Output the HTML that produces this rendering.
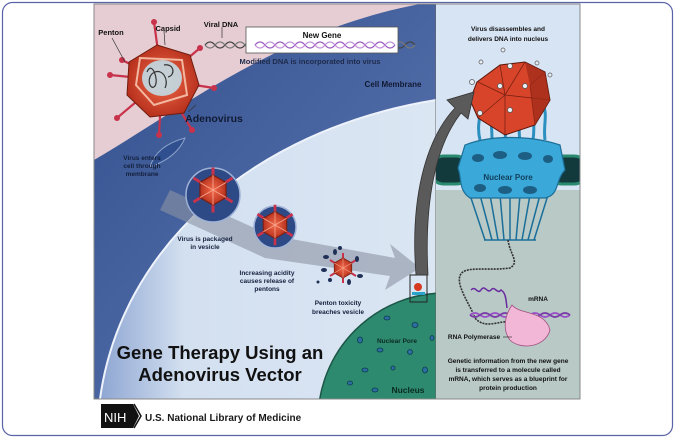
<!DOCTYPE html>
<html><head><meta charset="utf-8"><style>
html,body{margin:0;padding:0;background:#fff;width:675px;height:438px;overflow:hidden;}
svg{display:block;font-family:"Liberation Sans",sans-serif;font-weight:bold;}
</style></head><body>
<svg width="675" height="438" viewBox="0 0 675 438" xmlns="http://www.w3.org/2000/svg">
<defs>
<clipPath id="L"><rect x="94" y="4" width="342" height="395"/></clipPath>
<clipPath id="R"><rect x="436" y="4" width="144" height="395"/></clipPath>
<clipPath id="P"><rect x="94" y="4" width="486" height="395"/></clipPath>
<linearGradient id="mem" x1="0" y1="0" x2="1" y2="1"><stop offset="0" stop-color="#33518f"/><stop offset="1" stop-color="#5f79b3"/></linearGradient>
<linearGradient id="cyt" x1="0" y1="0" x2="1" y2="0"><stop offset="0" stop-color="#8ea6d2"/><stop offset="0.25" stop-color="#d3e0f0"/><stop offset="1" stop-color="#dbe6f3"/></linearGradient>
<radialGradient id="vr"><stop offset="0" stop-color="#f26a4a"/><stop offset="1" stop-color="#b8321e"/></radialGradient>
<g id="vir">
 <g stroke="#c8324a" stroke-width="2">
  <line x1="0" y1="0" x2="0" y2="-15"/><line x1="0" y1="0" x2="13" y2="-8"/><line x1="0" y1="0" x2="13" y2="8"/><line x1="0" y1="0" x2="0" y2="15"/><line x1="0" y1="0" x2="-13" y2="8"/><line x1="0" y1="0" x2="-13" y2="-8"/>
 </g>
 <polygon points="0,-10 8.7,-5 8.7,5 0,10 -8.7,5 -8.7,-5" fill="url(#vr)" stroke="#7a1e12" stroke-width="0.8"/>
 <path d="M0,-10 L0,10 M-8.7,-5 L8.7,5 M8.7,-5 L-8.7,5" stroke="#f7a58e" stroke-width="0.6"/>
</g>
</defs>
<rect x="2.5" y="2.5" width="670" height="433" rx="10" fill="#fff" stroke="#5b63a8" stroke-width="1.2"/>
<g clip-path="url(#L)">
 <rect x="94" y="4" width="342" height="395" fill="#e6cdd3"/>
 <path d="M94,160 C180,110 280,30 420,4 L436,4 L436,399 L94,399 Z" fill="url(#mem)"/>
 <path d="M100,399 C120,250 250,130 436,100 L436,399 Z" fill="url(#cyt)"/>
 <path d="M100,399 C120,250 250,130 436,100" fill="none" stroke="#eef3fb" stroke-width="2"/>
 <path d="M170,190 L270,235 L395,258 L390,244 L420,268 L385,290 L390,276 L265,258 L160,210 Z" fill="#8b93a3" opacity="0.6"/>
 <path d="M150,167 C170,160 180,150 185,138 C170,142 155,150 150,167 Z" fill="#2f4f8f" stroke="#8aa0c8"/>
 <circle cx="213" cy="195" r="27" fill="#2d4a86" stroke="#9fb2d6" stroke-width="1.5"/>
 <circle cx="275" cy="227" r="21" fill="#2d4a86" stroke="#9fb2d6" stroke-width="1.5"/>
 <use href="#vir" transform="translate(213,190) scale(1.5)"/>
 <use href="#vir" transform="translate(275,225) scale(1.35)"/>
 <use href="#vir" transform="translate(343,268) scale(1)"/>
 <g fill="#1f2f55">
  <ellipse cx="326" cy="257" rx="3" ry="2"/><ellipse cx="335" cy="252" rx="2" ry="3"/><ellipse cx="357" cy="259" rx="2" ry="3"/><ellipse cx="324" cy="270" rx="3" ry="2"/><ellipse cx="330" cy="280" rx="2" ry="2"/><ellipse cx="360" cy="276" rx="3" ry="2"/><ellipse cx="349" cy="282" rx="2" ry="3"/><ellipse cx="340" cy="248" rx="2" ry="2"/><ellipse cx="318" cy="282" rx="1.5" ry="1.5"/>
 </g>
 <circle cx="445" cy="420" r="127" fill="#2e8a6e" stroke="#1c5748" stroke-width="1.5"/>
 <g fill="#2a6fa0" stroke="#0d3a4e" stroke-width="0.8">
  <ellipse cx="387" cy="318" rx="3" ry="2"/><ellipse cx="415" cy="325" rx="3" ry="2.5"/><ellipse cx="360" cy="340" rx="2.5" ry="3"/><ellipse cx="380" cy="350" rx="3" ry="2"/><ellipse cx="410" cy="352" rx="2.5" ry="2.5"/><ellipse cx="365" cy="370" rx="3" ry="2"/><ellipse cx="393" cy="368" rx="2" ry="2"/><ellipse cx="425" cy="370" rx="2.5" ry="3"/><ellipse cx="350" cy="383" rx="2.5" ry="2"/><ellipse cx="375" cy="390" rx="3" ry="2"/><ellipse cx="432" cy="338" rx="2" ry="2.5"/>
 </g>
 <rect x="410" y="275" width="17" height="27" fill="none" stroke="#222" stroke-width="1"/>
 <circle cx="418" cy="287" r="4" fill="#d63b22"/>
 <rect x="412" y="292" width="13" height="3" fill="#2aa3c8"/>
 <path d="M205,45 q5,-6 10,0 t10,0 t10,0 t10,0 t10,0 t10,0 t10,0 t10,0 t10,0 t10,0 t10,0 t10,0 t10,0 t10,0 t10,0 t10,0 t10,0 t10,0 t10,0 t10,0 t10,0" fill="none" stroke="#444" stroke-width="1.3"/>
 <path d="M205,45 q5,6 10,0 t10,0 t10,0 t10,0 t10,0 t10,0 t10,0 t10,0 t10,0 t10,0 t10,0 t10,0 t10,0 t10,0 t10,0 t10,0 t10,0 t10,0 t10,0 t10,0 t10,0" fill="none" stroke="#777" stroke-width="1.3"/>
 <rect x="246" y="27" width="152" height="26" fill="#fff" stroke="#555" stroke-width="0.8"/>
 <path d="M255,45 q5,-6 10,0 t10,0 t10,0 t10,0 t10,0 t10,0 t10,0 t10,0 t10,0 t10,0 t10,0 t10,0 t10,0 t10,0" fill="none" stroke="#9a59c0" stroke-width="1.3"/>
 <path d="M255,45 q5,6 10,0 t10,0 t10,0 t10,0 t10,0 t10,0 t10,0 t10,0 t10,0 t10,0 t10,0 t10,0 t10,0 t10,0" fill="none" stroke="#c090dc" stroke-width="1.3"/>
 <g transform="translate(162,80)">
  <g stroke="#c8324a" stroke-width="2.2">
   <line x1="0" y1="0" x2="-8" y2="-58"/><line x1="0" y1="0" x2="38" y2="-32"/><line x1="0" y1="0" x2="52" y2="8"/><line x1="0" y1="0" x2="30" y2="50"/><line x1="0" y1="0" x2="-3" y2="55"/><line x1="0" y1="0" x2="-45" y2="38"/><line x1="0" y1="0" x2="-52" y2="-5"/><line x1="0" y1="0" x2="-40" y2="-20"/>
  </g>
  <g fill="#c8324a"><circle cx="-8" cy="-58" r="3"/><circle cx="38" cy="-32" r="3"/><circle cx="52" cy="8" r="3"/><circle cx="30" cy="50" r="3"/><circle cx="-3" cy="55" r="3"/><circle cx="-45" cy="38" r="3"/><circle cx="-52" cy="-5" r="3"/><circle cx="-40" cy="-20" r="3"/></g>
  <polygon points="-5,-35 28,-25 37,5 22,33 -12,37 -35,15 -33,-18" fill="url(#vr)" stroke="#6e1d10" stroke-width="1"/>
  <polygon points="-22,-22 20,-20 25,15 -8,25 -26,5" fill="none" stroke="#f3b7a0" stroke-width="2"/>
  <ellipse cx="0" cy="-2" rx="20" ry="18" fill="#bfe4f0" opacity="0.85"/>
  <path d="M-15,-8 c5,-12 12,8 8,14 c-5,6 -10,-10 0,-14 c8,-3 14,8 10,16 M2,-15 c10,-2 12,10 4,12" fill="none" stroke="#333" stroke-width="1.2"/>
 </g>
 <g stroke="#333" stroke-width="0.7"><line x1="112" y1="38" x2="125" y2="62"/><line x1="164" y1="31" x2="165" y2="45"/><line x1="222" y1="27" x2="222" y2="38"/><line x1="188" y1="112" x2="196" y2="105"/></g>
 <g fill="#111" font-size="7.5" text-anchor="middle">
  <text x="111" y="35">Penton</text><text x="168" y="31">Capsid</text><text x="221" y="27">Viral DNA</text>
  <text x="322" y="38" font-size="8">New Gene</text>
  <text x="310" y="64" fill="#1e2a4a">Modified DNA is incorporated into virus</text>
  <text x="393" y="87" font-size="8" fill="#111a33">Cell Membrane</text>
  <text x="214" y="122" font-size="10.5" fill="#111a33">Adenovirus</text>
  <g fill="#14203d" font-size="6.5"><text x="142" y="160">Virus enters</text><text x="142" y="168">cell through</text><text x="142" y="176">membrane</text>
  <text x="205" y="241">Virus is packaged</text><text x="205" y="249">in vesicle</text>
  <text x="267" y="275">Increasing acidity</text><text x="267" y="283">causes release of</text><text x="267" y="291">pentons</text>
  <text x="338" y="305">Penton toxicity</text><text x="338" y="314">breaches vesicle</text></g>
  <text x="397" y="343" font-size="6.5" fill="#0b2a22">Nuclear Pore</text>
  <text x="408" y="393" font-size="8.5" fill="#0b2a22">Nucleus</text>
  <text x="220" y="359" font-size="18.5" fill="#111">Gene Therapy Using an</text>
  <text x="220" y="381" font-size="18.5" fill="#111">Adenovirus Vector</text>
 </g>
</g>
<line x1="436" y1="4" x2="436" y2="399" stroke="#666" stroke-width="1"/>
<g clip-path="url(#R)">
 <rect x="436" y="4" width="144" height="395" fill="#d7e4f3"/>
 <rect x="436" y="190" width="144" height="209" fill="#b8c9c6"/>
 <rect x="430" y="156" width="40" height="28" rx="14" fill="#123a3c" stroke="#2a8a70" stroke-width="3"/>
 <rect x="548" y="156" width="40" height="28" rx="14" fill="#123a3c" stroke="#2a8a70" stroke-width="3"/>
 <g stroke="#1a6f9a" stroke-width="1.5" fill="none">
  <path d="M470,195 L485,240 M480,195 L492,240 M490,195 L498,240 M500,195 L504,240 M510,195 L510,240 M520,195 L516,240 M530,195 L522,240 M540,195 L528,240 M548,195 L534,240"/>
  <path d="M484,240 L536,240"/>
 </g>
 <g stroke="#2b8fbf" stroke-width="3" fill="none"><path d="M480,140 c-5,-20 5,-30 0,-45 M492,140 c0,-20 -3,-30 -2,-40 M505,140 c2,-15 -2,-25 2,-35 M520,140 c-3,-15 4,-30 0,-40 M533,140 c3,-20 -3,-25 3,-40 M545,140 c-2,-15 3,-25 -2,-35"/></g>
 <path d="M465,145 C490,135 530,135 560,145 L565,170 C555,180 560,195 545,198 L470,198 C458,190 462,178 458,168 Z" fill="#3aa8d8" stroke="#1d6f98" stroke-width="1.2"/>
 <g fill="#1d5f84"><ellipse cx="478" cy="158" rx="6" ry="4"/><ellipse cx="500" cy="155" rx="7" ry="4"/><ellipse cx="525" cy="156" rx="7" ry="4"/><ellipse cx="548" cy="159" rx="5" ry="4"/><ellipse cx="480" cy="188" rx="6" ry="4"/><ellipse cx="505" cy="190" rx="7" ry="4"/><ellipse cx="530" cy="190" rx="7" ry="4"/></g>
 <text x="508" y="180" font-size="8" fill="#123e5c" text-anchor="middle">Nuclear Pore</text>
 <polygon points="477,82 500,65 525,62 545,72 550,100 535,125 505,135 478,118 470,100" fill="#d8442a" stroke="#5a160c" stroke-width="1"/>
 <path d="M500,65 L505,95 L478,82 M505,95 L525,62 M505,95 L550,100 M505,95 L505,135 M505,95 L478,118 M530,85 L545,72 M530,85 L535,125" stroke="#7a2212" stroke-width="0.8" fill="none"/>
 <polygon points="525,62 545,72 550,100 535,125 530,85" fill="#9c2a18" opacity="0.7"/>
 <g fill="#e8eef5" stroke="#555" stroke-width="0.7"><circle cx="503" cy="50" r="2"/><circle cx="481" cy="62" r="2"/><circle cx="537" cy="63" r="2"/><circle cx="550" cy="75" r="2"/><circle cx="472" cy="82" r="2.5"/><circle cx="500" cy="86" r="2.5"/><circle cx="525" cy="86" r="2.5"/><circle cx="510" cy="110" r="2.5"/><circle cx="480" cy="113" r="2.5"/><circle cx="510" cy="66" r="2.5"/></g>
 <path d="M508,240 C510,255 520,262 510,268 C480,272 455,262 460,285 C465,300 470,305 475,318 C485,330 500,320 510,322" fill="none" stroke="#333" stroke-width="1.6" stroke-dasharray="2 1"/>
 <path d="M470,315 q5,-4 10,0 t10,0 t10,0 t10,0 t10,0 t10,0 t10,0 t10,0 t10,0 t10,0" fill="none" stroke="#9a4fc8" stroke-width="1.6"/>
 <path d="M470,315 q5,4 10,0 t10,0 t10,0 t10,0 t10,0 t10,0 t10,0 t10,0 t10,0 t10,0" fill="none" stroke="#7a3aa8" stroke-width="1.6"/>
 <path d="M512,305 C520,315 545,310 550,330 C545,348 520,350 510,340 C502,330 505,315 512,305 Z" fill="#f2b6d6" stroke="#a05080" stroke-width="0.8"/>
 <path d="M471,290 c5,-5 6,5 10,0 c4,-6 6,4 10,0 c4,-5 6,5 10,0 c5,3 5,10 6,18" fill="none" stroke="#6a2aa0" stroke-width="1.5"/>
 <g font-size="6.5" fill="#111" text-anchor="middle">
  <text x="508" y="31">Virus disassembles and</text><text x="508" y="41">delivers DNA into nucleus</text>
  <text x="538" y="301">mRNA</text>
  <text x="474" y="339">RNA Polymerase</text>
  <text x="508" y="363">Genetic information from the new gene</text>
  <text x="508" y="372">is transferred to a molecule called</text>
  <text x="508" y="381">mRNA, which serves as a blueprint for</text>
  <text x="508" y="390">protein production</text>
 </g>
 <line x1="503" y1="337" x2="512" y2="337" stroke="#222" stroke-width="0.6"/>
</g>
<g clip-path="url(#P)">
 <path d="M416,275 C410,200 425,140 455,108 L447,100 L474,92 L468,119 L461,113 C436,145 424,200 428,275 Z" fill="#5a5a5a" stroke="#333" stroke-width="0.8"/>
</g>
<rect x="94" y="4" width="486" height="395" fill="none" stroke="#888" stroke-width="1"/>
<path d="M101,404 L133,404 L139,416 L133,428 L101,428 Z" fill="#111"/>
<path d="M134,404 L141,416 L134,428" fill="none" stroke="#111" stroke-width="1.5"/>
<text x="104" y="422" font-size="13" fill="#fff" font-weight="normal">NIH</text>
<text x="145" y="421" font-size="10" fill="#1a1a1a">U.S. National Library of Medicine</text>
</svg>
</body></html>
